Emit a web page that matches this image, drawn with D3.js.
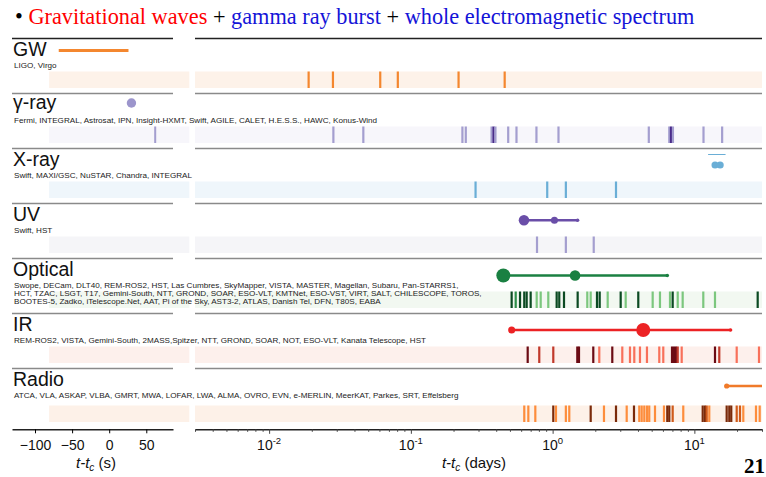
<!DOCTYPE html>
<html><head><meta charset="utf-8">
<script src="https://cdn.jsdelivr.net/npm/d3@7"></script>
<style>body{margin:0;background:#fff}svg{display:block}</style>
</head><body><svg id="c" width="766" height="477"></svg>
<script>
// ---------------- DATA ----------------
const rowNames = ["GW", "γ-ray", "X-ray", "UV", "Optical", "IR", "Radio"];
const rowInstruments = [
  ["LIGO, Virgo"],
  ["Fermi, INTEGRAL, Astrosat, IPN, Insight-HXMT, Swift, AGILE, CALET, H.E.S.S., HAWC, Konus-Wind"],
  ["Swift, MAXI/GSC, NuSTAR, Chandra, INTEGRAL"],
  ["Swift, HST"],
  ["Swope, DECam, DLT40, REM-ROS2, HST, Las Cumbres, SkyMapper, VISTA, MASTER, Magellan, Subaru, Pan-STARRS1,",
   "HCT, TZAC, LSGT, T17, Gemini-South, NTT, GROND, SOAR, ESO-VLT, KMTNet, ESO-VST, VIRT, SALT, CHILESCOPE, TOROS,",
   "BOOTES-5, Zadko, iTelescope.Net, AAT, Pi of the Sky, AST3-2, ATLAS, Danish Tel, DFN, T80S, EABA"],
  ["REM-ROS2, VISTA, Gemini-South, 2MASS,Spitzer, NTT, GROND, SOAR, NOT, ESO-VLT, Kanata Telescope, HST"],
  ["ATCA, VLA, ASKAP, VLBA, GMRT, MWA, LOFAR, LWA, ALMA, OVRO, EVN, e-MERLIN, MeerKAT, Parkes, SRT, Effelsberg"]
];

// left panel, seconds
const secTickValues = [-100, -50, 0, 50];
const secDomain = [-131, 86];
const secBand = [-81, 108];
const gwSignalSec = [-68, 26];
const grbSec = [30];
const gammaSecObs = [62];

// right panel, days
const dayDomain = [0.003, 30];
const dayTickValues = [0.01, 0.1, 1, 10];
const dayTickExponents = ["-2", "-1", "0", "1"];

const gwDays = [0.0190, 0.0282, 0.0608, 0.0809, 0.217, 0.459];

const gammaDays  = [0.0284, 0.0462, 0.231, 0.244, 0.371, 0.383, 0.395, 0.486, 0.556, 0.769, 1.10, 4.77, 6.65, 6.84, 7.06, 11.6, 15.7];
const gammaShade = [0, 0, 0, 0, 0, 2, 0, 0, 0, 0, 0, 0, 0, 2, 0, 0, 0];

const xrayDays = [0.286, 0.916, 1.24, 2.80];
const xrayDetect = [14.0, 15.2];
const xrayBar = [12.5, 16.6];

const uvDays = [0.776, 1.24, 1.95];
const uvDetect = [0.628, 1.03, 1.50];
const uvWeight = [3, 2, 1];

const optDays  = [0.514, 0.549, 0.589, 0.631, 0.656, 0.700, 0.772, 0.824, 0.932, 1.068, 1.114, 1.203, 1.502, 1.756, 1.856, 2.056, 2.148, 2.446, 3.021, 3.277, 4.021, 5.08, 5.72, 6.73, 7.03, 7.63, 8.27, 11.56, 13.98, 27.97];
const optShade = [2, 1, 2, 2, 2, 2, 0, 0, 0, 2, 2, 2, 2, 0, 0, 2, 2, 0, 2, 0, 2, 0, 0, 0, 2, 0, 0, 0, 0, 2];
const optDetect = [0.449, 1.44, 6.44];
const optWeight = [4, 3, 1];

const irDays  = [0.667, 0.805, 1.011, 1.493, 1.535, 1.936, 2.134, 2.636, 3.101, 3.514, 3.768, 4.133, 4.63, 5.655, 6.035, 6.954, 7.183, 7.42, 7.63, 8.14, 13.98, 14.99, 19.89, 28.57];
const irShade = [2, 1, 1, 2, 2, 2, 0, 2, 0, 0, 0, 0, 0, 0, 0, 2, 2, 2, 1, 0, 2, 1, 0, 0];
const irDetect = [0.514, 4.36, 18.0];
const irWeight = [2, 4, 1];

const radioDays  = [0.631, 0.674, 0.755, 1.011, 1.056, 1.24, 1.311, 1.856, 2.303, 2.80, 3.331, 3.75, 4.087, 4.25, 4.434, 4.63, 4.806, 5.275, 6.104, 6.44, 6.653, 7.03, 8.35, 11.45, 11.88, 12.22, 12.74, 16.9, 17.63, 18.21, 19.89, 20.98, 22.14, 27.21, 28.9];
const radioShade = [0, 0, 0, 2, 0, 0, 0, 2, 0, 2, 0, 2, 0, 0, 0, 0, 0, 0, 0, 2, 2, 1, 0, 2, 2, 1, 0, 2, 2, 2, 1, 1, 0, 0, 0];
const radioDetect = [16.9, 30];

// ---------------- DRAW ----------------
const svg = d3.select("#c");
const SANS = "'Liberation Sans', Arial, Helvetica, sans-serif";
const SERIF = "'Liberation Serif', 'Times New Roman', serif";

// Title
const title = svg.append("text").attr("x", 15).attr("y", 24)
  .attr("font-family", SERIF).attr("font-size", 22.3);
title.append("tspan").attr("fill", "#000").text("• ");
title.append("tspan").attr("fill", "#ff0000").text("Gravitational waves");
title.append("tspan").attr("fill", "#000").text(" + ");
title.append("tspan").attr("fill", "#1414d8").text("gamma ray burst");
title.append("tspan").attr("fill", "#000").text(" + ");
title.append("tspan").attr("fill", "#1414d8").text("whole electromagnetic spectrum");

const xs = d3.scaleLinear().domain(secDomain).range([12, 173]);
const xd = d3.scaleLog().domain(dayDomain).range([195, 762]);

const rowTop0 = 38.5, rowH = 55, bandH = 16.5;
const rowTop = i => rowTop0 + i * rowH;
const bandY = i => rowTop(i) + (i === 6 ? 37 : 33);

const bandFill = ["#fdf2e9", "#f7f6fb", "#eff6fb", "#f5f5f8", "#f2f8f1", "#fdf0ec", "#fdf1e8"];

// separators
rowNames.forEach((n, i) => {
  const y = rowTop(i);
  const col = i === 0 ? "#222" : "#8a8a8a";
  const w = i === 0 ? 1.4 : 1.3;
  svg.append("line").attr("x1", 12).attr("x2", 173).attr("y1", y).attr("y2", y).attr("stroke", col).attr("stroke-width", w);
  svg.append("line").attr("x1", 195).attr("x2", 762).attr("y1", y).attr("y2", y).attr("stroke", col).attr("stroke-width", w);
});

// bands
rowNames.forEach((n, i) => {
  svg.append("rect").attr("x", xs(secBand[0])).attr("width", xs(secBand[1]) - xs(secBand[0]))
    .attr("y", bandY(i)).attr("height", bandH).attr("fill", bandFill[i]);
  svg.append("rect").attr("x", xd.range()[0]).attr("width", xd.range()[1] - xd.range()[0])
    .attr("y", bandY(i)).attr("height", bandH).attr("fill", bandFill[i]);
});

// labels
rowNames.forEach((n, i) => {
  svg.append("text").attr("x", 13).attr("y", rowTop(i) + (i === 1 ? 15.5 : 17.5))
    .attr("font-family", SANS).attr("font-size", 19.5).attr("fill", "#111").text(n);
  rowInstruments[i].forEach((line, j) => {
    svg.append("text").attr("x", 14).attr("y", rowTop(i) + 29 + j * 8.3)
      .attr("font-family", SANS).attr("font-size", 8.1).attr("fill", "#222").text(line);
  });
});

function ticks(i, days, shades, palette) {
  svg.append("g").selectAll("rect").data(days).join("rect")
    .attr("x", d => xd(d) - 1.1).attr("width", 2.2)
    .attr("y", bandY(i)).attr("height", bandH)
    .attr("fill", (d, k) => palette[shades ? shades[k] : 0]);
}
ticks(0, gwDays, null, ["#f4872f"]);
ticks(1, gammaDays, gammaShade, ["#a49ecf", "#7a6fb8", "#4a2c8a"]);
ticks(2, xrayDays, null, ["#6aaed6"]);
ticks(3, uvDays, null, ["#a49ecf"]);
ticks(4, optDays, optShade, ["#7cc77e", "#2f8f4a", "#0b4a22"]);
ticks(5, irDays, irShade, ["#f8705a", "#c0392b", "#6b0b14"]);
ticks(6, radioDays, radioShade, ["#fd8d3c", "#cf5a1a", "#7a2a0a"]);

// left-panel marks
svg.append("line").attr("x1", xs(gwSignalSec[0])).attr("x2", xs(gwSignalSec[1]))
  .attr("y1", rowTop(0) + 12).attr("y2", rowTop(0) + 12).attr("stroke", "#f4872f").attr("stroke-width", 3.2);
svg.selectAll(".grb").data(grbSec).join("circle").attr("cx", d => xs(d)).attr("cy", rowTop(1) + 9.5)
  .attr("r", 4.7).attr("fill", "#9c95cc");
svg.selectAll(".gsec").data(gammaSecObs).join("rect").attr("x", d => xs(d) - 1).attr("width", 2)
  .attr("y", bandY(1)).attr("height", bandH).attr("fill", "#a49ecf");

// detections (right panel)
const rW = d3.scaleLinear().domain([1, 4]).range([1.8, 7]);
function detections(i, pts, weights, color, yOff) {
  const y = rowTop(i) + yOff;
  svg.append("line").attr("x1", xd(pts[0])).attr("x2", xd(pts[pts.length - 1]))
    .attr("y1", y).attr("y2", y).attr("stroke", color).attr("stroke-width", 2.6);
  svg.append("g").selectAll("circle").data(pts).join("circle")
    .attr("cx", d => xd(d)).attr("cy", y).attr("r", (d, k) => rW(weights[k])).attr("fill", color);
}
detections(3, uvDetect, uvWeight, "#6a4ea8", 16.7);
detections(4, optDetect, optWeight, "#1a8042", 17);
detections(5, irDetect, irWeight, "#ec2224", 16.5);

// radio
svg.append("line").attr("x1", xd(radioDetect[0])).attr("x2", xd(radioDetect[1]))
  .attr("y1", rowTop(6) + 17.5).attr("y2", rowTop(6) + 17.5).attr("stroke", "#f07a2a").attr("stroke-width", 2.6);
svg.append("circle").attr("cx", xd(radioDetect[0])).attr("cy", rowTop(6) + 17.5).attr("r", 2.6).attr("fill", "#f07a2a");

// xray
svg.append("line").attr("x1", xd(xrayBar[0])).attr("x2", xd(xrayBar[1]))
  .attr("y1", rowTop(2) + 6).attr("y2", rowTop(2) + 6).attr("stroke", "#6aaed6").attr("stroke-width", 1);
svg.append("g").selectAll("circle").data(xrayDetect).join("circle")
  .attr("cx", d => xd(d)).attr("cy", rowTop(2) + 16.5).attr("r", 3.6).attr("fill", "#6aaed6");

// axes
const axisY = 429.3;
const ax1 = svg.append("g").attr("transform", `translate(0,${axisY})`)
  .call(d3.axisBottom(xs).tickValues(secTickValues).tickSize(4).tickSizeOuter(0).tickFormat(d3.format("d")));
ax1.select(".domain").attr("stroke", "#222").attr("stroke-width", 1.4);
ax1.selectAll(".tick text").attr("font-family", SANS).attr("font-size", 14).attr("fill", "#111").attr("dy", "0.95em");

const minor = [];
for (let e = -3; e <= 1; e++) for (let m = 1; m <= 9; m++) {
  const v = m * Math.pow(10, e);
  if (v >= dayDomain[0] && v <= dayDomain[1]) minor.push(v);
}
const ax2 = svg.append("g").attr("transform", `translate(0,${axisY})`)
  .call(d3.axisBottom(xd).tickValues(minor).tickSize(2.5).tickSizeOuter(0).tickFormat(""));
ax2.select(".domain").attr("stroke", "#222").attr("stroke-width", 1.4);
ax2.selectAll(".tick line").attr("stroke", "#444")
  .attr("y2", d => dayTickValues.some(v => Math.abs(v - d) / v < 1e-6) ? 4.5 : 2.5);
const lab = svg.append("g").selectAll("text").data(dayTickValues).join("text")
  .attr("x", d => xd(d)).attr("y", axisY + 20.5).attr("text-anchor", "middle")
  .attr("font-family", SANS).attr("font-size", 14).attr("fill", "#111");
lab.append("tspan").text("10");
lab.append("tspan").attr("dy", -6).attr("font-size", 9.5).text((d, k) => dayTickExponents[k]);

function axisTitle(x, unit) {
  const t = svg.append("text").attr("x", x).attr("y", 468).attr("text-anchor", "middle")
    .attr("font-family", SANS).attr("font-size", 15).attr("fill", "#111");
  t.append("tspan").attr("font-style", "italic").text("t-t");
  t.append("tspan").attr("font-style", "italic").attr("font-size", 10).attr("dy", 3).text("c");
  t.append("tspan").attr("dy", -3).text(" (" + unit + ")");
}
axisTitle(96, "s");
axisTitle(474, "days");

svg.append("text").attr("x", 744).attr("y", 473).attr("font-family", SERIF).attr("font-weight", "bold")
  .attr("font-size", 21).attr("fill", "#000").text("21");
</script></body></html>
